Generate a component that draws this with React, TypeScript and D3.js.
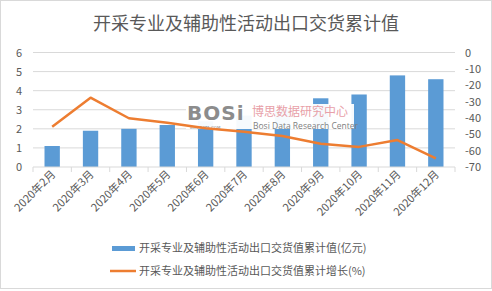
import React from "react";
import * as d3 from "d3";

const categories = ["2020年2月","2020年3月","2020年4月","2020年5月","2020年6月","2020年7月","2020年8月","2020年9月","2020年10月","2020年11月","2020年12月"];
const values = [1.1, 1.9, 2.0, 2.2, 2.4, 2.7, 3.0, 3.6, 3.8, 4.8, 4.6];
const growth = [-45.4, -27.6, -40.2, -42.9, -46.3, -48.4, -51.0, -55.8, -57.7, -53.5, -64.7];
const leftTicks = [0, 1, 2, 3, 4, 5, 6];
const rightTicks = [0, -10, -20, -30, -40, -50, -60, -70];
const title = "开采专业及辅助性活动出口交货累计值";
const legendBar = "开采专业及辅助性活动出口交货值累计值(亿元)";
const legendLine = "开采专业及辅助性活动出口交货值累计增长(%)";

export default function App() {
  const W = 492, H = 291;
  const left = 33, right = 455, top = 52.5, bottom = 167;
  const font = "'Noto Sans CJK SC', 'Microsoft YaHei', sans-serif";
  const txt = "#595959";
  const x = d3.scaleBand().domain(categories).range([left, right]).paddingInner(0.6).paddingOuter(0.3);
  const xb = d3.scaleBand().domain(categories).range([left, right]);
  const y = d3.scaleLinear().domain([0, 6]).range([bottom, top]);
  const y2 = d3.scaleLinear().domain([-70, 0]).range([bottom, top]);
  const line = d3.line<number>().x((_, i) => (xb(categories[i]) as number) + xb.bandwidth() / 2).y(d => y2(d));
  return (
    <svg width={W} height={H} style={{ position: "absolute", left: 0, top: 0, background: "#fff" }} fontFamily={font}>
      <rect x={0.5} y={0.5} width={W - 1} height={H - 3} fill="#fff" stroke="#d9d9d9" />
      <text x={W / 2} y={30} textAnchor="middle" fontSize={18} fill={txt}>{title}</text>
      {leftTicks.map(t => (
        <g key={"l" + t}>
          {t > 0 && <line x1={left} x2={right} y1={y(t)} y2={y(t)} stroke="#d9d9d9" />}
          <text x={22} y={y(t) + 4} textAnchor="end" fontSize={11} fill={txt}>{t}</text>
        </g>
      ))}
      {rightTicks.map(t => (
        <text key={"r" + t} x={465} y={y2(t) + 4} textAnchor="start" fontSize={11} fill={txt}>{t}</text>
      ))}
      {categories.map((c, i) => (
        <rect key={c} x={x(c)} y={y(values[i])} width={x.bandwidth()} height={bottom - y(values[i])} fill="#5b9bd5" />
      ))}
      <line x1={left} x2={right} y1={bottom} y2={bottom} stroke="#d9d9d9" />
      {categories.concat(["end"]).map((c, i) => {
        const xx = left + i * xb.step();
        return <line key={"t" + i} x1={xx} x2={xx} y1={bottom} y2={bottom + 5} stroke="#d9d9d9" />;
      })}
      {/* watermark */}
      <rect x={186} y={104} width={168} height={25} fill="#fff" opacity={0.95} />
      <text x={187} y={120} fontSize={20} fontWeight="bold" fill="#8c8c8c" fontFamily="'DejaVu Sans', sans-serif" letterSpacing={1}>BOSi</text>
      <text x={190} y={129} fontSize={4} fill="#8c8c8c" fontFamily="'DejaVu Sans', sans-serif">BOSIDATA.COM</text>
      <text x={252} y={116} fontSize={12} fill="#e8a0a8">博思数据研究中心</text>
      <text x={253} y={128.5} fontSize={8.5} fill="#7f7f7f" fontFamily="'Open Sans', sans-serif">Bosi Data Research Center</text>
      <path d={line(growth) as string} fill="none" stroke="#ed7d31" strokeWidth={2.5} strokeLinejoin="round" />
      {categories.map(c => {
        const cx = (xb(c) as number) + xb.bandwidth() / 2 + 4;
        return (
          <text key={"x" + c} transform={`translate(${cx},${bottom + 8}) rotate(-45)`} textAnchor="end" fontSize={11} fill={txt}>{c}</text>
        );
      })}
      <rect x={112} y={246} width={23} height={5} fill="#5b9bd5" />
      <text x={139} y={252} fontSize={11} fill={txt}>{legendBar}</text>
      <line x1={110} x2={136} y1={271} y2={271} stroke="#ed7d31" strokeWidth={2.5} />
      <text x={139} y={275} fontSize={11} fill={txt}>{legendLine}</text>
    </svg>
  );
}
